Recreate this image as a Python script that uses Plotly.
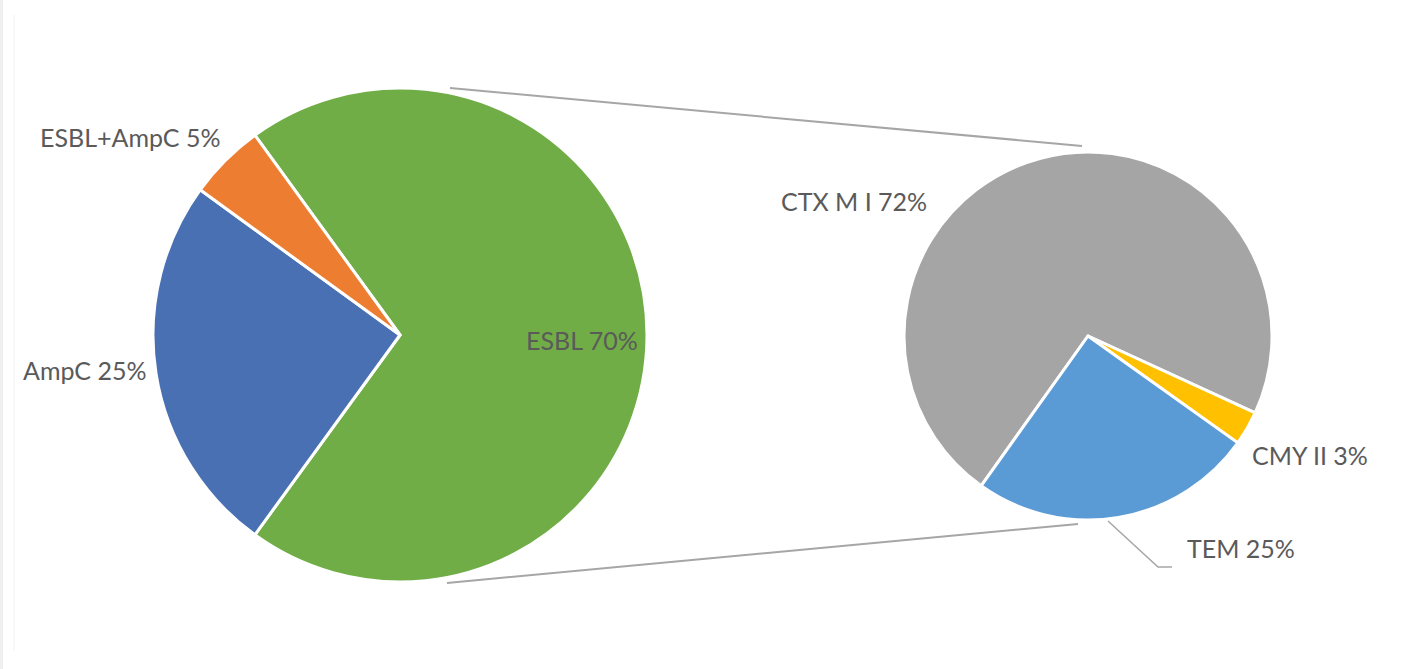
import plotly.graph_objects as go

W, H = 1421, 669

# Data
main_labels = ["ESBL", "AmpC", "ESBL+AmpC"]
main_values = [70, 25, 5]
main_colors = ["#70ad47", "#4a70b4", "#ed7d31"]

sub_labels = ["CTX M I", "CMY II", "TEM"]
sub_values = [72, 3, 25]
sub_colors = ["#a5a5a5", "#ffc000", "#5b9bd5"]


def px(x):
    return x / W


def py(y):
    return 1 - y / H


fig = go.Figure()

fig.add_trace(go.Pie(
    labels=main_labels, values=main_values, sort=False, direction="clockwise",
    rotation=-36, marker=dict(colors=main_colors, line=dict(color="white", width=3)),
    textinfo="none", hoverinfo="label+percent", showlegend=False,
    domain=dict(x=[px(152), px(648)], y=[py(582), py(88)]),
))
fig.add_trace(go.Pie(
    labels=sub_labels, values=sub_values, sort=False, direction="clockwise",
    rotation=-144.5, marker=dict(colors=sub_colors, line=dict(color="white", width=3)),
    textinfo="none", hoverinfo="label+percent", showlegend=False,
    domain=dict(x=[px(904), px(1272)], y=[py(520), py(152)]),
))

font = dict(family="Lato, Open Sans, sans-serif", size=25, color="#5a5a5a")

label_pos = {
    "ESBL+AmpC": (130, 137),
    "AmpC": (85, 370),
    "ESBL": (582, 340),
    "CTX M I": (854, 201),
    "CMY II": (1310, 455),
    "TEM": (1241, 548),
}
annotations = []
for lab, val in zip(main_labels + sub_labels, main_values + sub_values):
    x, y = label_pos[lab]
    annotations.append(dict(
        x=px(x), y=py(y), xref="paper", yref="paper", text=f"{lab} {val}%",
        showarrow=False, font=font, xanchor="center", yanchor="middle",
    ))

line_col = "#a6a6a6"
shapes = [
    # connector lines
    dict(type="line", xref="paper", yref="paper", x0=px(450), y0=py(88), x1=px(1082), y1=py(146),
         line=dict(color=line_col, width=2)),
    dict(type="line", xref="paper", yref="paper", x0=px(447), y0=py(583), x1=px(1078), y1=py(524),
         line=dict(color=line_col, width=2)),
    # leader line for TEM
    dict(type="path", xref="paper", yref="paper",
         path=f"M {px(1108)} {py(521)} L {px(1158)} {py(567)} L {px(1172)} {py(567)}",
         line=dict(color=line_col, width=1.5)),
    # faint frame bits
    dict(type="rect", xref="paper", yref="paper", x0=0, y0=0, x1=px(3), y1=1,
         fillcolor="#efefef", line=dict(width=0), layer="below"),
    dict(type="line", xref="paper", yref="paper", x0=px(14), y0=py(15), x1=px(14), y1=py(651),
         line=dict(color="#f2f2f2", width=1), layer="below"),
]

fig.update_layout(
    width=W, height=H, margin=dict(l=0, r=0, t=0, b=0),
    paper_bgcolor="white", plot_bgcolor="white",
    annotations=annotations, shapes=shapes, showlegend=False,
)

fig.write_html(
    "out.html",
    config={"displayModeBar": False},
    post_script="document.body.style.margin='0';document.body.style.padding='0';document.body.style.overflow='hidden';",
)
